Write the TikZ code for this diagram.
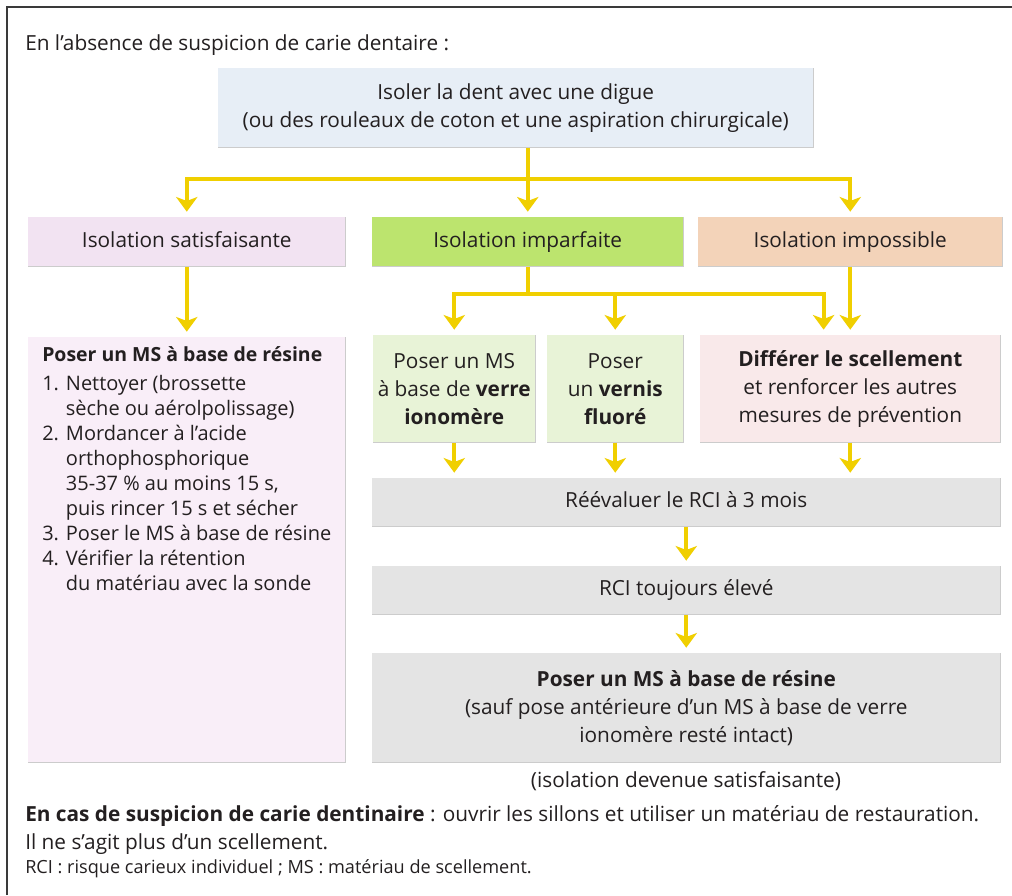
\documentclass[tikz,border=0pt]{standalone}
\usepackage{fontspec}
\setmainfont{Open Sans}
\usetikzlibrary{arrows.meta}
\definecolor{yel}{HTML}{F0CF00}
\definecolor{cTop}{HTML}{E7EEF6}
\definecolor{cSat}{HTML}{F2E3F2}
\definecolor{cImp}{HTML}{BCE46E}
\definecolor{cImpos}{HTML}{F3D3B9}
\definecolor{cL}{HTML}{F9EEF8}
\definecolor{cG}{HTML}{E8F3D7}
\definecolor{cDiff}{HTML}{F9E9EA}
\definecolor{cGray}{HTML}{E4E4E4}
\definecolor{txt}{HTML}{231F20}
\definecolor{frm}{HTML}{3A3A3A}
\begin{document}
\begin{tikzpicture}[x=0.75pt,y=-0.75pt,
  box/.style={rectangle, anchor=north west, inner sep=0pt, align=center, text=txt,
    font=\fontsize{15.6}{21}\selectfont},
  one/.style={text height=11.5pt, text depth=3.5pt},
  wh/.style 2 args={minimum width=#1*0.75pt, minimum height=#2*0.75pt},
  shd/.style={draw=gray!40, line width=1pt},
  ylin/.style={draw=yel, line width=3pt},
  yarr/.style={draw=yel, line width=3pt, -{Stealth[length=11pt,width=16pt,inset=3pt]}, shorten >=4pt},
  plain/.style={anchor=west, inner sep=0pt, text=txt, font=\fontsize{15.6}{21}\selectfont}
]
\useasboundingbox (0,0) rectangle (1012,895);
\fill[white] (0,0) rectangle (1012,895);
\draw[frm, line width=1.5pt] (7,895) -- (7,7) -- (1012,7);

\node[plain] (title) at (25,45) {En l’absence de suspicion de carie dentaire :};

\node[box, wh={595}{79}, fill=cTop] (top) at (218,68)
  {Isoler la dent avec une digue\\(ou des rouleaux de coton et une aspiration chirurgicale)};

\node[box, one, wh={317}{49}, fill=cSat] (sat) at (28,217) {Isolation satisfaisante};
\node[box, one, wh={311}{49}, fill=cImp] (imp) at (372,217) {Isolation imparfaite};
\node[box, one, wh={304}{49}, fill=cImpos] (impos) at (698,217) {Isolation impossible};

\node[box, wh={317}{425}, fill=cL] (lbox) at (28,337) {};
\node[anchor=north west, inner sep=0pt, align=left, text=txt,
  font=\fontsize{15}{18.8}\selectfont] (ltext) at (42,346)
  {{\fontsize{14.6}{18.8}\selectfont\bfseries Poser un MS à base de résine}\\[3pt]
   1. Nettoyer (brossette\\
   \hphantom{1. }sèche ou aérolpolissage)\\
   2. Mordancer à l’acide\\
   \hphantom{2. }orthophosphorique\\
   \hphantom{2. }35-37 \% au moins 15 s,\\
   \hphantom{2. }puis rincer 15 s et sécher\\
   3. Poser le MS à base de résine\\
   4. Vérifier la rétention\\
   \hphantom{4. }du matériau avec la sonde};

\node[box, wh={162}{107}, fill=cG] (g1) at (373,335)
  {Poser un MS\\à base de {\bfseries verre}\\{\bfseries ionomère}};
\node[box, wh={136}{107}, fill=cG] (g2) at (547,335)
  {Poser\\un {\bfseries vernis}\\{\bfseries fluoré}};
\node[box, wh={300}{107}, fill=cDiff] (diff) at (700,335)
  {{\bfseries Différer le scellement}\\et renforcer les autres\\mesures de prévention};

\node[box, one, wh={628}{48}, fill=cGray] (reev) at (372,478) {Réévaluer le RCI à 3 mois};
\node[box, one, wh={628}{48}, fill=cGray] (rci) at (372,566) {RCI toujours élevé};
\node[box, wh={628}{109}, fill=cGray] (final) at (372,653)
  {{\bfseries Poser un MS à base de résine}\\(sauf pose antérieure d’un MS à base de verre\\ionomère resté intact)};

\foreach \n in {top,sat,imp,impos,lbox,g1,g2,diff,reev,rci,final}
  \draw[shd] (\n.south west) -- (\n.south east) -- (\n.north east);

\node[anchor=center, inner sep=0pt, text=txt, font=\fontsize{15.6}{21}\selectfont] (note) at (686,781)
  {(isolation devenue satisfaisante)};
\node[plain] (b1) at (25,816)
  {{\bfseries En cas de suspicion de carie dentinaire} : ouvrir les sillons et utiliser un matériau de restauration.};
\node[plain] (b2) at (25,844) {Il ne s’agit plus d’un scellement.};
\node[plain, font=\fontsize{13.6}{16}\selectfont] (b3) at (25,869)
  {RCI : risque carieux individuel ; MS : matériau de scellement.};

% connectors
\draw[ylin] (top.south -| imp.north) -- ++(0,31) coordinate (j1);
\draw[yarr] (j1) -| (sat.north);
\draw[yarr] (j1) -- (imp.north);
\draw[yarr] (j1) -| (impos.north);
\draw[yarr] (sat.south) -- (lbox.north);
\draw[ylin] (imp.south) -- ++(0,27) coordinate (j2);
\draw[yarr] (j2) -| (g1.north);
\draw[yarr] (j2) -| (g2.north);
\draw[yarr] (j2) -| ([xshift=-20pt]diff.north);
\draw[yarr] (impos.south) -- (impos.south |- diff.north);
\draw[yarr] (g1.south) -- (g1.south |- reev.north);
\draw[yarr] (g2.south) -- (g2.south |- reev.north);
\draw[yarr] (diff.south) -- (diff.south |- reev.north);
\draw[yarr] (reev.south) -- (rci.north);
\draw[yarr] (rci.south) -- (final.north);
\end{tikzpicture}
\end{document}
